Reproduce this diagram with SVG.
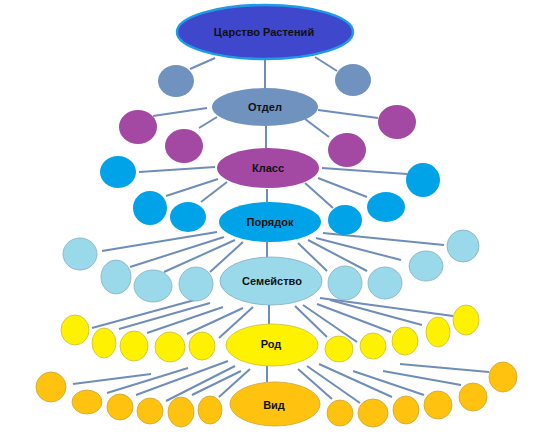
<svg xmlns="http://www.w3.org/2000/svg" width="549" height="436" viewBox="0 0 549 436">
<style>
.bg{fill:#ffffff}
.ln line{stroke:#6F8DB9;stroke-width:2;stroke-linecap:butt}
.t{font-family:"Liberation Sans",Arial,sans-serif;font-weight:bold;font-size:11px;fill:#111;text-anchor:middle;dominant-baseline:central}
.k{fill:#3F47CC;stroke:#1E9BE6;stroke-width:2.5}
.s{fill:#7092BE}
.p{fill:#A349A4}
.b{fill:#00A2E8}
.lb{fill:#99D9EA;stroke:#84AFC4;stroke-width:0.8}
.y{fill:#FFF200;stroke:#C9BC3A;stroke-width:0.8}
.o{fill:#FFC20E;stroke:#CCA43A;stroke-width:0.8}
</style>
<rect class="bg" x="0" y="0" width="549" height="436"/>
<g id="connectors" class="ln">
<line x1="215" y1="58" x2="190" y2="69"/>
<line x1="315" y1="57" x2="337" y2="71"/>
<line x1="265" y1="59" x2="265" y2="89"/>
<line x1="207" y1="108" x2="153" y2="116"/>
<line x1="217" y1="117" x2="199" y2="128"/>
<line x1="318" y1="110" x2="378" y2="118"/>
<line x1="305" y1="119" x2="329" y2="137"/>
<line x1="266" y1="126" x2="266" y2="148"/>
<line x1="215" y1="167" x2="139" y2="172"/>
<line x1="218" y1="179" x2="166" y2="196"/>
<line x1="227" y1="182" x2="201" y2="202"/>
<line x1="322" y1="168" x2="407" y2="174"/>
<line x1="318" y1="178" x2="367" y2="197"/>
<line x1="305" y1="183" x2="333" y2="208"/>
<line x1="267" y1="189" x2="267" y2="202"/>
<line x1="217" y1="232" x2="102" y2="251"/>
<line x1="224" y1="237" x2="130" y2="267"/>
<line x1="235" y1="240" x2="164" y2="272"/>
<line x1="243" y1="242" x2="210" y2="272"/>
<line x1="323" y1="233" x2="444" y2="245"/>
<line x1="316" y1="238" x2="401" y2="260"/>
<line x1="308" y1="240" x2="367" y2="271"/>
<line x1="298" y1="243" x2="327" y2="271"/>
<line x1="267" y1="242" x2="267" y2="258"/>
<line x1="202" y1="298" x2="92" y2="328"/>
<line x1="210" y1="303" x2="119" y2="329"/>
<line x1="223" y1="307" x2="147" y2="333"/>
<line x1="243" y1="308" x2="187" y2="334"/>
<line x1="253" y1="307" x2="219" y2="338"/>
<line x1="320" y1="298" x2="453" y2="316"/>
<line x1="330" y1="300" x2="422" y2="325"/>
<line x1="317" y1="304" x2="391" y2="332"/>
<line x1="303" y1="305" x2="357" y2="342"/>
<line x1="295" y1="306" x2="327" y2="337"/>
<line x1="269" y1="305" x2="269" y2="324"/>
<line x1="151" y1="374" x2="73" y2="384"/>
<line x1="188" y1="368" x2="107" y2="393"/>
<line x1="228" y1="361" x2="136" y2="395"/>
<line x1="235" y1="366" x2="166" y2="401"/>
<line x1="241" y1="371" x2="192" y2="395"/>
<line x1="250" y1="369" x2="219" y2="397"/>
<line x1="298" y1="369" x2="332" y2="399"/>
<line x1="307" y1="366" x2="360" y2="403"/>
<line x1="319" y1="364" x2="392" y2="397"/>
<line x1="353" y1="371" x2="424" y2="395"/>
<line x1="383" y1="371" x2="461" y2="385"/>
<line x1="400" y1="364" x2="489" y2="372"/>
<line x1="267" y1="366" x2="267" y2="382"/>
</g>
<g id="kingdom"><ellipse class="k" cx="265" cy="32" rx="88" ry="27"/><text class="t" x="264" y="32">Царство Растений</text></g>
<g id="div-l"><ellipse class="s" cx="176" cy="81" rx="18" ry="16"/></g>
<g id="div-r"><ellipse class="s" cx="353" cy="80" rx="18" ry="16"/></g>
<g id="otdel"><ellipse class="s" cx="265" cy="107" rx="53" ry="19"/><text class="t" x="265" y="107">Отдел</text></g>
<g id="cls-1"><ellipse class="p" cx="138" cy="127" rx="19" ry="17"/></g>
<g id="cls-2"><ellipse class="p" cx="184" cy="146" rx="19" ry="17"/></g>
<g id="cls-3"><ellipse class="p" cx="347" cy="150" rx="19" ry="17"/></g>
<g id="cls-4"><ellipse class="p" cx="397" cy="122" rx="19" ry="17"/></g>
<g id="klass"><ellipse class="p" cx="268" cy="168" rx="51" ry="20"/><text class="t" x="268" y="168">Класс</text></g>
<g id="ord-1"><ellipse class="b" cx="118" cy="172" rx="18" ry="16"/></g>
<g id="ord-2"><ellipse class="b" cx="150" cy="208" rx="17" ry="17"/></g>
<g id="ord-3"><ellipse class="b" cx="188" cy="217" rx="18" ry="15"/></g>
<g id="ord-4"><ellipse class="b" cx="345" cy="220" rx="17" ry="15"/></g>
<g id="ord-5"><ellipse class="b" cx="386" cy="207" rx="19" ry="15"/></g>
<g id="ord-6"><ellipse class="b" cx="423" cy="180" rx="17" ry="17"/></g>
<g id="poryadok"><ellipse class="b" cx="270" cy="222" rx="51" ry="20"/><text class="t" x="270" y="222">Порядок</text></g>
<g id="fam-1"><ellipse class="lb" cx="80" cy="254" rx="17" ry="16"/></g>
<g id="fam-2"><ellipse class="lb" cx="116" cy="277" rx="15" ry="17"/></g>
<g id="fam-3"><ellipse class="lb" cx="153" cy="286" rx="19" ry="16"/></g>
<g id="fam-4"><ellipse class="lb" cx="196" cy="284" rx="17" ry="17"/></g>
<g id="fam-5"><ellipse class="lb" cx="345" cy="283" rx="17" ry="17"/></g>
<g id="fam-6"><ellipse class="lb" cx="385" cy="283" rx="17" ry="16"/></g>
<g id="fam-7"><ellipse class="lb" cx="426" cy="266" rx="17" ry="15"/></g>
<g id="fam-8"><ellipse class="lb" cx="463" cy="246" rx="16" ry="16"/></g>
<g id="semeystvo"><ellipse class="lb" cx="271" cy="281" rx="51" ry="24"/><text class="t" x="272" y="281">Семейство</text></g>
<g id="gen-1"><ellipse class="y" cx="75" cy="330" rx="14" ry="15"/></g>
<g id="gen-2"><ellipse class="y" cx="104" cy="343" rx="12" ry="15"/></g>
<g id="gen-3"><ellipse class="y" cx="134" cy="346" rx="14" ry="15"/></g>
<g id="gen-4"><ellipse class="y" cx="170" cy="347" rx="15" ry="15"/></g>
<g id="gen-5"><ellipse class="y" cx="202" cy="346" rx="13" ry="14"/></g>
<g id="gen-6"><ellipse class="y" cx="339" cy="349" rx="14" ry="13"/></g>
<g id="gen-7"><ellipse class="y" cx="373" cy="346" rx="13" ry="13"/></g>
<g id="gen-8"><ellipse class="y" cx="405" cy="341" rx="13" ry="14"/></g>
<g id="gen-9"><ellipse class="y" cx="438" cy="332" rx="12" ry="15"/></g>
<g id="gen-10"><ellipse class="y" cx="466" cy="320" rx="13" ry="15"/></g>
<g id="rod"><ellipse class="y" cx="272" cy="345" rx="46" ry="21" stroke="none"/><text class="t" x="271" y="344">Род</text></g>
<g id="sp-1"><ellipse class="o" cx="51" cy="387" rx="15" ry="15"/></g>
<g id="sp-2"><ellipse class="o" cx="87" cy="402" rx="15" ry="12"/></g>
<g id="sp-3"><ellipse class="o" cx="120" cy="407" rx="13" ry="13"/></g>
<g id="sp-4"><ellipse class="o" cx="150" cy="411" rx="13" ry="13"/></g>
<g id="sp-5"><ellipse class="o" cx="181" cy="412" rx="13" ry="15"/></g>
<g id="sp-6"><ellipse class="o" cx="210" cy="410" rx="12" ry="14"/></g>
<g id="sp-7"><ellipse class="o" cx="340" cy="413" rx="13" ry="13"/></g>
<g id="sp-8"><ellipse class="o" cx="373" cy="413" rx="15" ry="14"/></g>
<g id="sp-9"><ellipse class="o" cx="406" cy="410" rx="13" ry="14"/></g>
<g id="sp-10"><ellipse class="o" cx="438" cy="405" rx="14" ry="14"/></g>
<g id="sp-11"><ellipse class="o" cx="473" cy="397" rx="14" ry="14"/></g>
<g id="sp-12"><ellipse class="o" cx="503" cy="377" rx="14" ry="15"/></g>
<g id="vid"><ellipse class="o" cx="275" cy="404" rx="45" ry="22" stroke="none"/><text class="t" x="274" y="405">Вид</text></g>
</svg>
